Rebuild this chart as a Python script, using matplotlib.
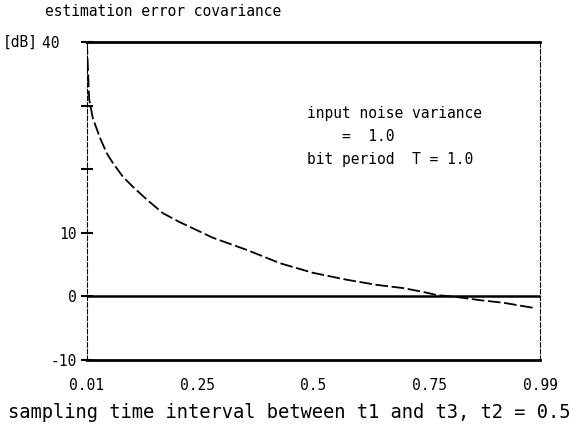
import matplotlib.pyplot as plt
import numpy as np

plt.rcParams["font.family"] = ["DejaVu Sans Mono"]

# sampling interval between t1 and t3 vs. estimation error covariance [dB]
interval = [0.01, 0.015, 0.023, 0.038, 0.053, 0.066, 0.088, 0.11, 0.14,
            0.174, 0.21, 0.283, 0.356, 0.428, 0.499, 0.573, 0.637, 0.694,
            0.737, 0.767, 0.81, 0.86, 0.91, 0.975]
cov_db = [40.0, 31.0, 28.0, 25.0, 22.5, 21.0, 18.8, 17.2, 15.2,
          13.1, 11.7, 9.2, 7.3, 5.2, 3.7, 2.6, 1.8, 1.3,
          0.7, 0.2, -0.1, -0.6, -1.0, -1.8]
ref_level = 0.0

xticks = [0.01, 0.25, 0.5, 0.75, 0.99]
xtick_labels = ["0.01", "0.25", "0.5", "0.75", "0.99"]
yticks = [40, 30, 20, 10, 0, -10]
ytick_labels = ["40  ", "", "", "10", "0", "-10"]

fig = plt.figure(figsize=(5.79, 4.24), dpi=100)
ax = fig.add_axes([0.150, 0.151, 0.783, 0.750])

ax.plot(interval, cov_db, color="black", lw=1.3, linestyle=(0, (7, 2)))
ax.axhline(ref_level, color="black", lw=1.8)

ax.set_xlim(0.01, 0.99)
ax.set_ylim(-10, 40)

ax.set_xticks(xticks)
ax.set_xticklabels(xtick_labels, fontsize=10.5)
ax.set_yticks(yticks)
ax.set_yticklabels(ytick_labels, fontsize=10.5)
ax.tick_params(axis="x", length=0, pad=13)
ax.tick_params(axis="y", direction="inout", length=8, width=1.5, pad=3)

for side in ["top", "bottom"]:
    ax.spines[side].set_linewidth(2.0)
for side in ["left", "right"]:
    ax.spines[side].set_linewidth(0.8)
    ax.spines[side].set_linestyle((0, (4, 2)))

fig.text(0.077, 0.972, "estimation error covariance", fontsize=10.5,
         va="center", ha="left")
fig.text(0.005, 0.901, "[dB]", fontsize=10.5, va="center", ha="left")

ax.text(0.485, 0.80, "input noise variance\n    =  1.0\nbit period  T = 1.0",
        transform=ax.transAxes, fontsize=10.5, va="top", ha="left",
        linespacing=1.7)

ax.set_xlabel("sampling time interval between t1 and t3, t2 = 0.5",
              fontsize=13.5)
ax.xaxis.set_label_coords(0.446, -0.135)

fig.savefig("out.png", dpi=100)
